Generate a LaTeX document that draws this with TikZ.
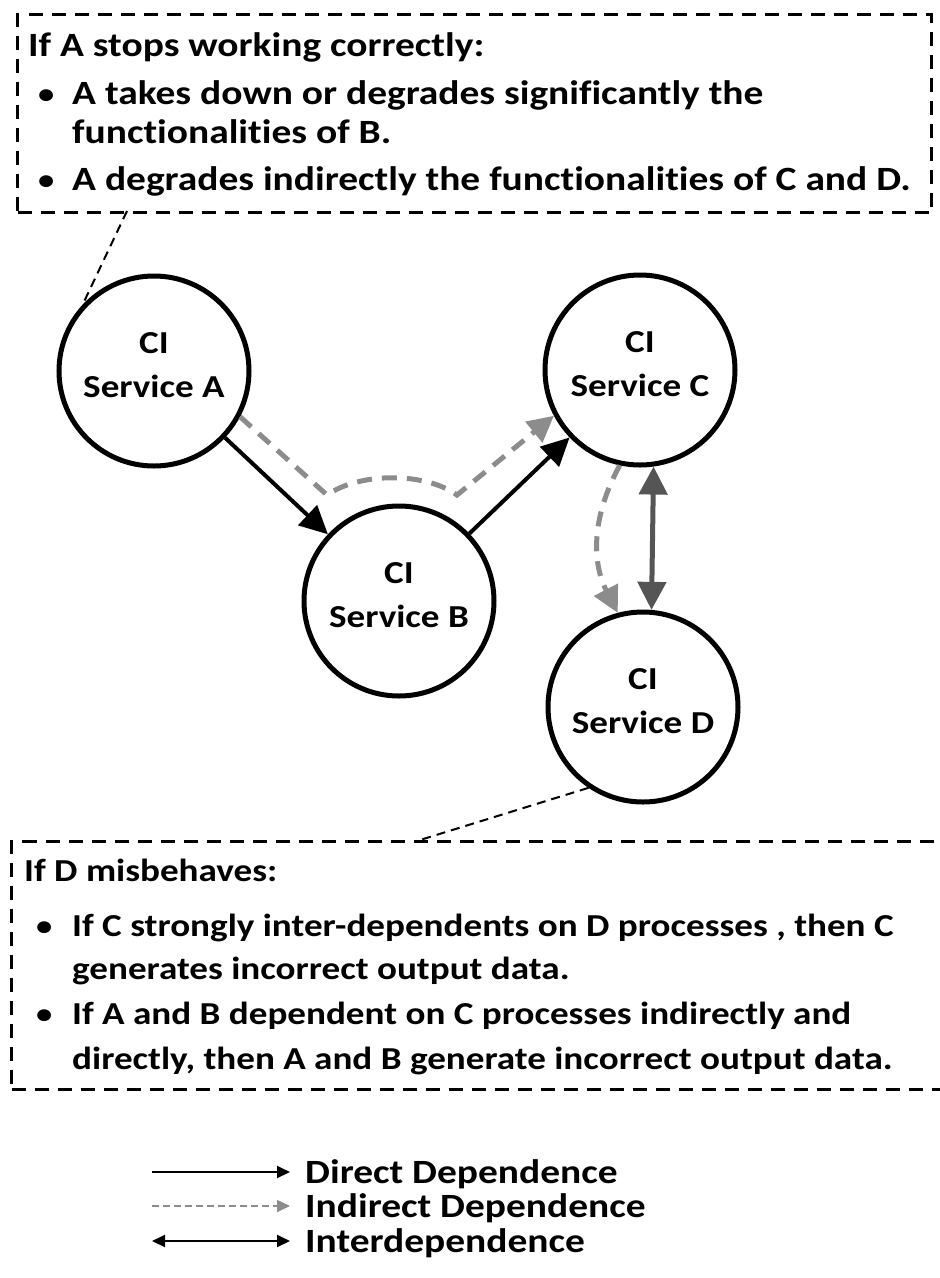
\documentclass[tikz,border=0pt]{standalone}
\usepackage{fontspec}
\setmainfont{Carlito}[FakeStretch=1.16,Ligatures=NoCommon]
\usetikzlibrary{arrows.meta}
\definecolor{indgray}{HTML}{8C8C8C}
\definecolor{intgray}{HTML}{555555}
\begin{document}
\begin{tikzpicture}[x=1pt,y=-1pt,
  ci/.style={circle, draw, line width=5pt, minimum size=190pt, inner sep=0pt, align=center,
    text depth=12pt, font=\fontsize{32}{44}\selectfont\bfseries},
  callout/.style={draw, line width=3pt, dash pattern=on 14pt off 9pt, inner sep=0pt},
  txt/.style={anchor=base west, inner sep=0pt, font=\fontsize{34}{40}\selectfont\bfseries},
  txtb/.style={anchor=base west, inner sep=0pt, font=\fontsize{32}{40}\selectfont\bfseries},
  bul/.style={anchor=base west, inner sep=0pt, font=\fontsize{28}{40}\selectfont\bfseries},
  legtxt/.style={anchor=base west, inner sep=0pt, font=\fontsize{34}{36}\selectfont\bfseries},
  direct/.style={line width=4pt, -{Triangle[length=28pt,width=27pt]}},
  indirect/.style={draw=indgray, line width=5pt, dash pattern=on 15pt off 10pt,
    -{Triangle[length=26pt,width=26pt,color=indgray]}},
  inter/.style={draw=intgray, line width=5pt, {Triangle[length=28pt,width=28pt]}-{Triangle[length=28pt,width=28pt]}},
  calloutline/.style={line width=2pt, dash pattern=on 9pt off 6pt},
]
\useasboundingbox[fill=white] (0,0) rectangle (940,1278);

% callout boxes
\node[callout, minimum width=914pt, minimum height=198pt, anchor=north west] (topbox) at (16,13) {};
\node[callout, minimum width=935pt, minimum height=248pt, anchor=north west] (botbox) at (10,840) {};

% top box text
\node[txt] (ta0) at (28,56) {If A stops working correctly:};
\node[bul] (tab1) at (38,103) {•};
\node[txt] (ta1) at (72,104) {A takes down or degrades significantly the};
\node[txt] (ta2) at (72,143) {functionalities of B.};
\node[bul] (tab2) at (38,189) {•};
\node[txt] (ta3) at (72,190) {A degrades indirectly the functionalities of C and D.};

% bottom box text
\node[txtb] (tb0) at (24,881) {If D misbehaves:};
\node[bul] (tbb1) at (36,935) {•};
\node[txtb] (tb1) at (72,936) {If C strongly inter-dependents on D processes , then C};
\node[txtb] (tb2) at (72,979) {generates incorrect output data.};
\node[bul] (tbb2) at (36,1023) {•};
\node[txtb] (tb3) at (72,1024) {If A and B dependent on C processes indirectly and};
\node[txtb] (tb4) at (72,1069) {directly, then A and B generate incorrect output data.};

% services
\node[ci] (A) at (154,371) {CI\\Service A};
\node[ci] (C) at (640,370) {CI\\Service C};
\node[ci] (B) at (399,601) {CI\\Service B};
\node[ci] (D) at (643,707) {CI\\Service D};

% callout connectors
\coordinate (topc) at (127,211);
\coordinate (botc) at (420,840);
\draw[calloutline] (topc) -- (A.137);
\draw[calloutline] (D.236) -- (botc);

% dependencies
\draw[direct] (A) -- (B);
\draw[direct] (B) -- (C);
\coordinate (k1) at (327,495);
\coordinate (k2) at (457,495);
\draw[indirect] (A.-28) -- (k1) .. controls (360,472) and (425,472) .. (k2) -- (C.208);
\draw[indirect] (C.258) to[bend right=28] (D.105);
\draw[inter] (C.278) -- (D.85);

% legend
\coordinate (l1a) at (152,1172); \coordinate (l1b) at (290,1172);
\coordinate (l2a) at (152,1206); \coordinate (l2b) at (290,1206);
\coordinate (l3a) at (152,1241); \coordinate (l3b) at (290,1241);
\draw[line width=2pt, -{Triangle[length=13pt,width=12pt]}] (l1a) -- (l1b);
\draw[draw=indgray, line width=1.5pt, dash pattern=on 7pt off 4pt, -{Triangle[length=13pt,width=12pt,color=indgray]}] (l2a) -- (l2b);
\draw[line width=2pt, {Triangle[length=13pt,width=12pt]}-{Triangle[length=13pt,width=12pt]}] (l3a) -- (l3b);
\node[legtxt] (lg1) at (305,1183) {Direct Dependence};
\node[legtxt] (lg2) at (305,1217) {Indirect Dependence};
\node[legtxt] (lg3) at (305,1252) {Interdependence};
\end{tikzpicture}
\end{document}
